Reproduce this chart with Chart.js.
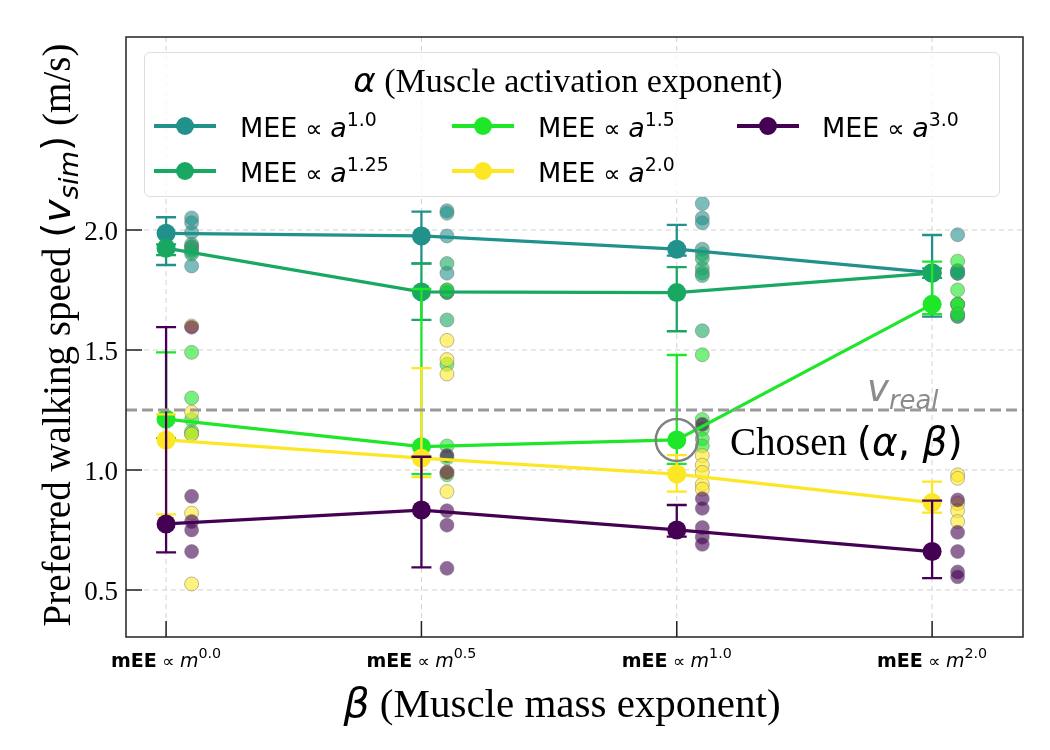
<!DOCTYPE html>
<html>
<head>
<meta charset="utf-8">
<script src="https://cdn.jsdelivr.net/npm/chart.js@4.4.1/dist/chart.umd.min.js"></script>
<style>
  body { margin: 0; background: #fff; }
  #wrap { position: relative; width: 1050px; height: 750px; }
  #overlay { position: absolute; left: 0; top: 0; width: 1050px; height: 750px; pointer-events: none; }
  .txt { position: absolute; white-space: nowrap; color: #000; line-height: 1; }
  .serif { font-family: "Liberation Serif", "DejaVu Serif", serif; }
  .sans { font-family: "DejaVu Sans", sans-serif; }
  .sup { font-size: 70%; position: relative; top: -0.6em; }
  .sub { font-size: 70%; position: relative; top: 0.3em; }
  #legend { position: absolute; left: 144px; top: 52px; width: 854px; height: 143px;
            border: 1.5px solid #dddddd; border-radius: 6px; background: rgba(255,255,255,0.8); }
  .handle { position: absolute; width: 62px; height: 4px; }
  .handle span { position: absolute; left: 22px; top: -7px; width: 18px; height: 18px; border-radius: 50%; }
</style>
</head>
<body>
<div id="wrap">
  <canvas id="my-chart" width="1050" height="750"></canvas>
  <div id="overlay"></div>
</div>
<script>
// x categories (beta, muscle mass exponent) and y ticks
const betaLabels = ['0.0', '0.5', '1.0', '2.0'];
const yTicks = [0.5, 1.0, 1.5, 2.0];
const vReal = 1.25;

// alpha (muscle activation exponent) series
const alphaLabels = ['1.0', '1.25', '1.5', '2.0', '3.0'];
const alphaColors = ['#21918c', '#19a862', '#1ee628', '#fde725', '#440154'];

// mean preferred speed per beta
const mean_a10 = [1.986, 1.975, 1.920, 1.822];
const mean_a125 = [1.924, 1.742, 1.739, 1.820];
const mean_a15 = [1.212, 1.097, 1.125, 1.690];
const mean_a20 = [1.125, 1.049, 0.983, 0.864];
const mean_a30 = [0.775, 0.833, 0.750, 0.660];

// error bar low / high
const lo_a10 = [1.854, 1.861, 1.893, 1.639];
const hi_a10 = [2.053, 2.076, 2.021, 1.979];
const lo_a125 = [1.895, 1.625, 1.578, 1.800];
const hi_a125 = [1.940, 1.860, 1.845, 1.840];
const lo_a15 = [1.133, 0.983, 1.025, 1.649];
const hi_a15 = [1.490, 1.754, 1.479, 1.868];
const lo_a20 = [0.815, 0.970, 0.910, 0.822];
const hi_a20 = [1.232, 1.424, 1.062, 0.951];
const lo_a30 = [0.657, 0.594, 0.722, 0.549];
const hi_a30 = [1.595, 1.055, 0.854, 0.872];

// individual runs per beta
const pts_a10 = [[2.05, 2.03, 1.99, 1.93, 1.85], [2.08, 2.07, 1.975, 1.82, 1.74], [2.11, 2.05, 2.03, 1.92, 1.82], [1.98, 1.83, 1.82, 1.82, 1.64]];
const pts_a125 = [[1.94, 1.93, 1.92, 1.91, 1.90], [1.86, 1.75, 1.74, 1.74, 1.625], [1.90, 1.88, 1.84, 1.81, 1.58], [1.83, 1.82, 1.69, 1.65, 1.64]];
const pts_a15 = [[1.49, 1.30, 1.21, 1.16, 1.15], [1.75, 1.44, 1.10, 1.05, 0.98], [1.48, 1.21, 1.17, 1.13, 1.10], [1.87, 1.75, 1.69, 1.69, 1.65]];
const pts_a20 = [[1.60, 1.24, 1.15, 0.82, 0.525], [1.54, 1.46, 1.40, 0.99, 0.91], [1.06, 1.02, 0.99, 0.94, 0.92], [0.98, 0.965, 0.86, 0.83, 0.785]];
const pts_a30 = [[1.595, 0.89, 0.785, 0.75, 0.66], [1.06, 0.99, 0.83, 0.77, 0.59], [1.19, 0.88, 0.84, 0.76, 0.72, 0.69], [0.875, 0.74, 0.66, 0.575, 0.555]];

// chosen (alpha, beta): alpha = 1.5, beta = 1.0
const chosenAlpha = 2;
const chosenBeta = 2;

const means = [mean_a10, mean_a125, mean_a15, mean_a20, mean_a30];
const lows = [lo_a10, lo_a125, lo_a15, lo_a20, lo_a30];
const highs = [hi_a10, hi_a125, hi_a15, hi_a20, hi_a30];
const points = [pts_a10, pts_a125, pts_a15, pts_a20, pts_a30];

const PT_SHIFT = 0.1; // individual runs drawn a bit right of the mean

function withAlpha(hex, a) {
    const n = parseInt(hex.slice(1), 16);
    return `rgba(${(n >> 16) & 255}, ${(n >> 8) & 255}, ${n & 255}, ${a})`;
}

const datasets = [];
alphaLabels.forEach((lab, k) => {
    datasets.push({
        label: 'runs ' + lab,
        data: points[k].flatMap((arr, i) => arr.map(v => ({ x: i + PT_SHIFT, y: v }))),
        backgroundColor: withAlpha(alphaColors[k], 0.6),
        borderColor: 'rgba(120,120,120,0.5)',
        borderWidth: 1,
        pointRadius: 7,
        order: 100 - k
    });
});
alphaLabels.forEach((lab, k) => {
    datasets.push({
        label: 'MEE a^' + lab,
        data: means[k].map((v, i) => ({ x: i, y: v })),
        showLine: true,
        borderColor: alphaColors[k],
        backgroundColor: alphaColors[k],
        borderWidth: 3.2,
        pointRadius: 9.5,
        pointBorderWidth: 0,
        order: 50 - k,
        errLo: lows[k],
        errHi: highs[k]
    });
});

// error bars, grid, v_real line, frame
const drawExtras = {
    id: 'drawExtras',
    beforeDatasetsDraw(chart) {
        const { ctx, chartArea: a, scales: { x, y } } = chart;
        ctx.save();
        ctx.strokeStyle = '#d2d2d2';
        ctx.lineWidth = 1;
        ctx.setLineDash([5, 4]);
        betaLabels.forEach((_, i) => {
            const px = x.getPixelForValue(i);
            ctx.beginPath(); ctx.moveTo(px, a.top); ctx.lineTo(px, a.bottom); ctx.stroke();
        });
        yTicks.forEach(v => {
            const py = y.getPixelForValue(v);
            ctx.beginPath(); ctx.moveTo(a.left, py); ctx.lineTo(a.right, py); ctx.stroke();
        });
        ctx.restore();
    },
    beforeDatasetDraw(chart, args) {
        const ds = chart.data.datasets[args.index];
        if (!ds.errLo) return;
        const { ctx, scales: { x, y } } = chart;
        ctx.save();
        ctx.strokeStyle = ds.borderColor;
        ctx.lineWidth = 2.3;
        ds.errLo.forEach((lo, i) => {
            const px = x.getPixelForValue(i);
            const p1 = y.getPixelForValue(lo), p2 = y.getPixelForValue(ds.errHi[i]);
            ctx.beginPath();
            ctx.moveTo(px, p1); ctx.lineTo(px, p2);
            ctx.moveTo(px - 10, p1); ctx.lineTo(px + 10, p1);
            ctx.moveTo(px - 10, p2); ctx.lineTo(px + 10, p2);
            ctx.stroke();
        });
        ctx.restore();
    },
    afterDatasetsDraw(chart) {
        const { ctx, chartArea: a, scales: { x, y } } = chart;
        ctx.save();
        // v_real
        ctx.strokeStyle = '#9a9a9a';
        ctx.lineWidth = 3;
        ctx.setLineDash([11, 5]);
        const py = y.getPixelForValue(vReal);
        ctx.beginPath(); ctx.moveTo(a.left, py); ctx.lineTo(a.right, py); ctx.stroke();
        // chosen circle
        ctx.setLineDash([]);
        ctx.strokeStyle = '#808080';
        ctx.lineWidth = 2.5;
        ctx.beginPath();
        ctx.arc(x.getPixelForValue(chosenBeta), y.getPixelForValue(means[chosenAlpha][chosenBeta]), 21, 0, 2 * Math.PI);
        ctx.stroke();
        ctx.restore();
    },
    afterDraw(chart) {
        const { ctx, chartArea: a, scales: { x, y } } = chart;
        ctx.save();
        ctx.strokeStyle = '#222';
        ctx.lineWidth = 1.5;
        ctx.strokeRect(a.left, a.top, a.right - a.left, a.bottom - a.top);
        ctx.beginPath();
        betaLabels.forEach((_, i) => {
            const px = x.getPixelForValue(i);
            ctx.moveTo(px, a.bottom); ctx.lineTo(px, a.bottom - 16);
        });
        yTicks.forEach(v => {
            const p = y.getPixelForValue(v);
            ctx.moveTo(a.left, p); ctx.lineTo(a.left + 16, p);
        });
        ctx.stroke();
        ctx.restore();
    }
};

const ctx = document.getElementById('my-chart').getContext('2d');
const chart = new Chart(ctx, {
    type: 'scatter',
    data: { datasets },
    options: {
        responsive: false,
        animation: false,
        devicePixelRatio: 1,
        layout: { padding: { left: 126, top: 37, right: 27, bottom: 113 } },
        plugins: { legend: { display: false }, tooltip: { enabled: false } },
        scales: {
            x: { type: 'linear', display: false, min: -0.157, max: 3.356 },
            y: { type: 'linear', display: false, min: 0.304, max: 2.804 }
        }
    },
    plugins: [drawExtras]
});

// text overlay
const overlay = document.getElementById('overlay');
function addText(html, cls, style) {
    const el = document.createElement('div');
    el.className = 'txt ' + cls;
    el.innerHTML = html;
    Object.assign(el.style, style);
    overlay.appendChild(el);
    return el;
}
const xs = chart.scales.x, ys = chart.scales.y, area = chart.chartArea;

yTicks.forEach(v => {
    addText(v.toFixed(1), 'serif', {
        fontSize: '27px', right: (1050 - area.left + 8) + 'px',
        top: (ys.getPixelForValue(v) + 1) + 'px', transform: 'translateY(-50%)'
    });
});
betaLabels.forEach((b, i) => {
    addText(`<b>mEE</b><span style="font-size:90%"> ∝ </span><i>m</i><span class="sup" style="font-size:75%">${b}</span>`, 'sans', {
        fontSize: '19px', left: xs.getPixelForValue(i) + 'px', top: '661px', transform: 'translate(-50%, -50%)'
    });
});
addText('<span class="sans"><i>β</i></span> (Muscle mass exponent)', 'serif', {
    fontSize: '41px', left: '562px', top: '703px', transform: 'translate(-50%, -50%)'
});
addText('Preferred walking speed <span class="sans">(<i>v</i><span class="sub"><i>sim</i></span>)</span> (m/s)', 'serif', {
    fontSize: '39px', left: '56px', top: '335px',
    transform: 'translate(-50%, -50%) rotate(-90deg)'
});
addText('<i>v</i><span class="sub"><i>real</i></span>', 'sans', {
    fontSize: '37px', color: '#8c8c8c', left: '867px', top: (ys.getPixelForValue(vReal) - 22) + 'px',
    transform: 'translateY(-50%)'
});
addText('Chosen <span class="sans">(<i>α</i>, <i>β</i>)</span>', 'serif', {
    fontSize: '39px', left: '730px', top: (ys.getPixelForValue(means[chosenAlpha][chosenBeta]) + 1) + 'px',
    transform: 'translateY(-50%)'
});

// legend
const legend = document.createElement('div');
legend.id = 'legend';
overlay.appendChild(legend);
addText('<span class="sans"><i>α</i></span> (Muscle activation exponent)', 'serif', {
    fontSize: '34px', left: '568px', top: '80px', transform: 'translate(-50%, -50%)'
});
const colHandle = [154, 452, 737];
const colText = [240, 538, 822];
const rowY = [126, 171];
alphaLabels.forEach((lab, k) => {
    const c = Math.floor(k / 2), r = k % 2;
    const h = document.createElement('div');
    h.className = 'handle';
    h.style.left = colHandle[c] + 'px';
    h.style.top = (rowY[r] - 2) + 'px';
    h.style.background = alphaColors[k];
    h.innerHTML = `<span style="background:${alphaColors[k]}"></span>`;
    overlay.appendChild(h);
    addText(`MEE<span style="font-size:90%"> ∝ </span><i>a</i><span class="sup">${lab}</span>`, 'sans', {
        fontSize: '27px', left: colText[c] + 'px', top: rowY[r] + 'px', transform: 'translateY(-45%)'
    });
});
</script>
</body>
</html>
